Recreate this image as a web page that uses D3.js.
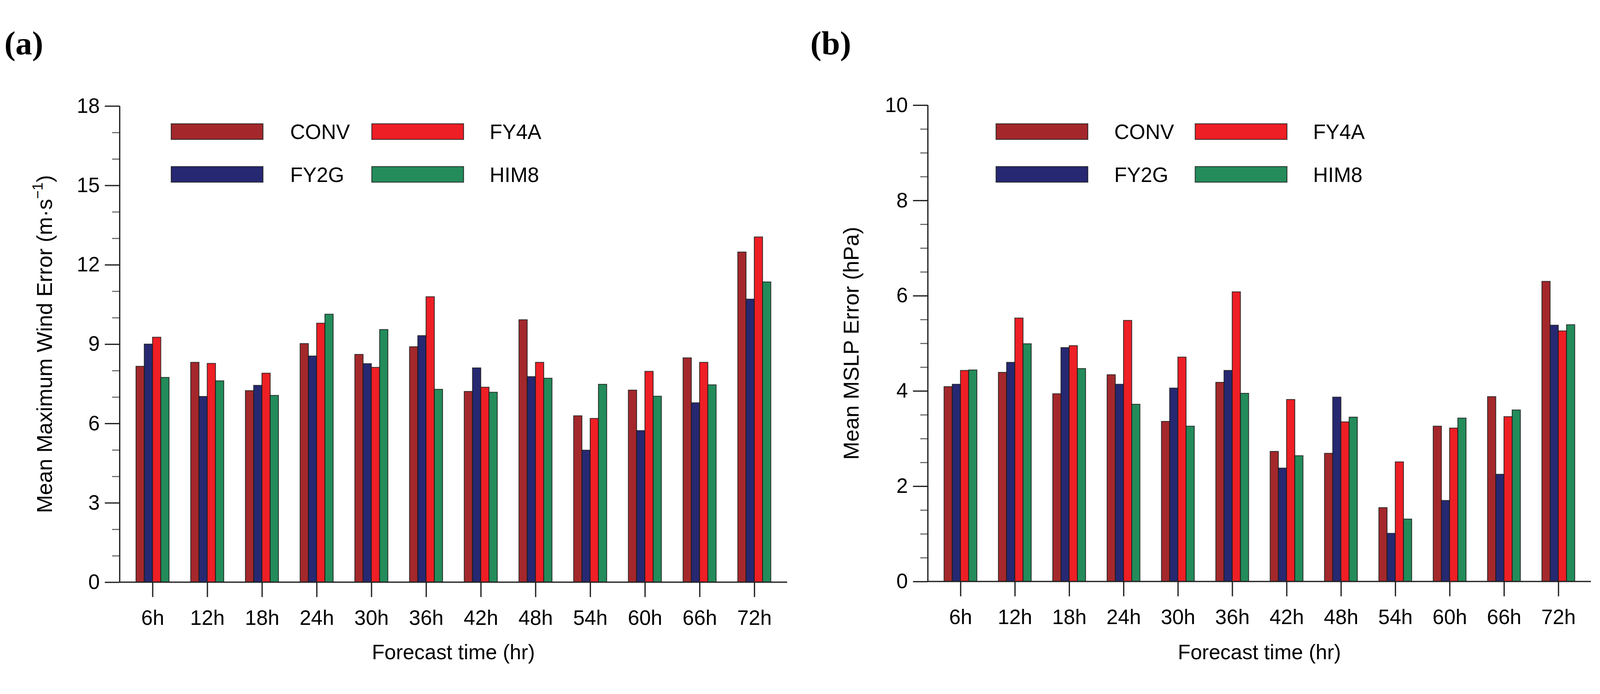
<!DOCTYPE html>
<html>
<head>
<meta charset="utf-8">
<script src="https://cdn.jsdelivr.net/npm/d3@7/dist/d3.min.js"></script>
<style>
  html, body { margin: 0; padding: 0; background: #fff; overflow: hidden; }
  svg { display: block; width: 100vw; height: 100vh; }
</style>
</head>
<body>
<svg id="chart" viewBox="0 0 4411 1777" preserveAspectRatio="xMidYMid meet"></svg>
<script>
// ---------------- DATA ----------------
const categories = ["6h","12h","18h","24h","30h","36h","42h","48h","54h","60h","66h","72h"];
const seriesNames = ["CONV","FY2G","FY4A","HIM8"];
const seriesColors = ["#A4282B","#262872","#EE1F25","#238C5A"];

// Panel (a): Mean Maximum Wind Error (m·s-1)
const windCONV = [8.16, 8.31, 7.24, 9.02, 8.61, 8.90, 7.21, 9.92, 6.29, 7.26, 8.48, 12.48];
const windFY2G = [9.00, 7.02, 7.44, 8.55, 8.26, 9.32, 8.10, 7.77, 4.99, 5.73, 6.78, 10.70];
const windFY4A = [9.26, 8.27, 7.90, 9.79, 8.12, 10.79, 7.37, 8.31, 6.19, 7.97, 8.31, 13.05];
const windHIM8 = [7.74, 7.61, 7.06, 10.13, 9.55, 7.29, 7.18, 7.71, 7.48, 7.03, 7.46, 11.35];

// Panel (b): Mean MSLP Error (hPa)
const mslpCONV = [4.09, 4.39, 3.94, 4.34, 3.36, 4.18, 2.73, 2.69, 1.55, 3.26, 3.88, 6.30];
const mslpFY2G = [4.14, 4.60, 4.91, 4.14, 4.06, 4.43, 2.38, 3.87, 1.01, 1.70, 2.25, 5.38];
const mslpFY4A = [4.43, 5.53, 4.95, 5.48, 4.71, 6.08, 3.82, 3.35, 2.51, 3.22, 3.46, 5.26];
const mslpHIM8 = [4.44, 4.99, 4.47, 3.72, 3.26, 3.95, 2.64, 3.45, 1.31, 3.43, 3.60, 5.39];

const windMajorTicks = [0, 3, 6, 9, 12, 15, 18];
const windMinorTicks = [1, 2, 4, 5, 7, 8, 10, 11, 13, 14, 16, 17];
const mslpMajorTicks = [0, 2, 4, 6, 8, 10];
const mslpMinorTicks = [0.5, 1, 1.5, 2.5, 3, 3.5, 4.5, 5, 5.5, 6.5, 7, 7.5, 8.5, 9, 9.5];

// ---------------- DRAW ----------------
const SANS = "'Liberation Sans', Arial, Helvetica, sans-serif";
const SERIF = "'Liberation Serif', 'Times New Roman', Times, serif";
const svg = d3.select("#chart");
svg.append("rect").attr("width", 4411).attr("height", 1777).attr("fill", "#fff");

function drawPanel(cfg) {
  const g = svg.append("g");
  const x = d3.scaleLinear().domain([0.4, 12.6]).range([cfg.left, cfg.right]);
  const y = d3.scaleLinear().domain([0, cfg.ymax]).range([cfg.bottom, cfg.top]);
  const unit = x(1) - x(0);
  const bw = 0.151 * unit;

  // bars
  cfg.series.forEach((vals, j) => {
    g.append("g").selectAll("rect").data(vals).join("rect")
      .attr("x", (d, i) => x(i + 1) + (j - 2) * bw)
      .attr("y", d => y(d))
      .attr("width", bw)
      .attr("height", d => y(0) - y(d))
      .attr("fill", seriesColors[j])
      .attr("stroke", "#1a1a1a")
      .attr("stroke-opacity", 0.8)
      .attr("stroke-width", 2.4);
  });

  // minor ticks
  const minorAxis = d3.axisLeft(y).tickValues(cfg.minor).tickSize(21).tickFormat("");
  const gm = g.append("g").attr("transform", `translate(${cfg.left},0)`).call(minorAxis);
  gm.select(".domain").remove();
  gm.selectAll(".tick line").attr("stroke", "#666").attr("stroke-width", 3);

  // major ticks + labels
  const majorAxis = d3.axisLeft(y).tickValues(cfg.major).tickSize(41).tickPadding(14)
    .tickFormat(d3.format("d"));
  const gy = g.append("g").attr("transform", `translate(${cfg.left},0)`).call(majorAxis);
  gy.select(".domain").attr("stroke", "#222").attr("stroke-width", 3.5)
    .attr("d", `M0,${y(cfg.ymax)}V${y(0)}`);
  gy.selectAll(".tick line").attr("stroke", "#222").attr("stroke-width", 3.5);
  gy.selectAll(".tick text").style("font-size", "57px").style("font-family", SANS)
    .attr("fill", "#000");

  // bottom axis
  const xAxis = d3.axisBottom(x).tickValues(d3.range(1, 13)).tickSize(41).tickPadding(36)
    .tickFormat((d) => categories[d - 1]);
  const gx = g.append("g").attr("transform", `translate(0,${cfg.bottom})`).call(xAxis);
  gx.select(".domain").attr("stroke", "#222").attr("stroke-width", 3.5)
    .attr("d", `M${cfg.left},0H${cfg.right}`);
  gx.selectAll(".tick line").attr("stroke", "#222").attr("stroke-width", 3.5);
  gx.selectAll(".tick text").style("font-size", "57px").style("font-family", SANS)
    .attr("fill", "#000");

  // x title
  g.append("text")
    .attr("x", (cfg.left + cfg.right) / 2)
    .attr("y", 1750)
    .attr("text-anchor", "middle")
    .style("font-family", SANS).style("font-size", "57px")
    .text("Forecast time (hr)");

  // y title
  const yt = g.append("text")
    .attr("transform", `translate(${cfg.ytitleX},${(cfg.top + cfg.bottom) / 2}) rotate(-90)`)
    .attr("text-anchor", "middle")
    .style("font-family", SANS).style("font-size", "60px");
  cfg.ytitle(yt);

  // panel label
  g.append("text")
    .attr("x", cfg.labelX).attr("y", 81)
    .style("font-family", SERIF)
    .style("font-weight", "bold")
    .style("font-size", "92px")
    .text(cfg.label);

  // legend
  const legendItems = [
    { name: seriesNames[0], color: seriesColors[0], col: 0, row: 0 },
    { name: seriesNames[2], color: seriesColors[2], col: 1, row: 0 },
    { name: seriesNames[1], color: seriesColors[1], col: 0, row: 1 },
    { name: seriesNames[3], color: seriesColors[3], col: 1, row: 1 }
  ];
  const lg = g.append("g");
  legendItems.forEach(it => {
    const rx = cfg.legRectX[it.col];
    const ry = 273 + it.row * 118;
    lg.append("rect").attr("x", rx).attr("y", ry).attr("width", 253).attr("height", 43)
      .attr("fill", it.color).attr("stroke", "#1a1a1a").attr("stroke-opacity", 0.8)
      .attr("stroke-width", 2.5);
    lg.append("text").attr("x", cfg.legTextX[it.col]).attr("y", ry + 21.5)
      .attr("dy", "0.36em")
      .style("font-family", SANS).style("font-size", "57px").text(it.name);
  });
}

drawPanel({
  left: 330, right: 2170, top: 224, bottom: 1537, ymax: 18,
  major: windMajorTicks, minor: windMinorTicks,
  series: [windCONV, windFY2G, windFY4A, windHIM8],
  ytitleX: 143, label: "(a)", labelX: 12,
  legRectX: [472, 1025], legTextX: [800, 1350],
  ytitle: (t) => {
    t.append("tspan").text("Mean Maximum Wind Error (m·s");
    t.append("tspan").style("font-size", "40px").attr("dy", -26).text("−1");
    t.append("tspan").attr("dy", 26).text(")");
  }
});

drawPanel({
  left: 2558, right: 4386, top: 221.6, bottom: 1535, ymax: 10,
  major: mslpMajorTicks, minor: mslpMinorTicks,
  series: [mslpCONV, mslpFY2G, mslpFY4A, mslpHIM8],
  ytitleX: 2367, label: "(b)", labelX: 2234,
  legRectX: [2746, 3295], legTextX: [3072, 3620],
  ytitle: (t) => { t.text("Mean MSLP Error (hPa)"); }
});
</script>
</body>
</html>
